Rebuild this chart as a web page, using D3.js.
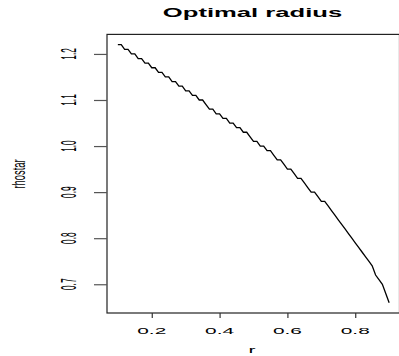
<!DOCTYPE html>
<html>
<head>
<meta charset="utf-8">
<script src="https://cdn.jsdelivr.net/npm/d3@7"></script>
<style>
  body { margin: 0; background: #fff; }
  text { font-family: "Liberation Sans", Arial, sans-serif; }
</style>
</head>
<body>
<div id="chart"></div>
<script>
// r values 0.10 .. 0.90 by 0.01
var rValues = [0.10, 0.11, 0.12, 0.13, 0.14, 0.15, 0.16, 0.17, 0.18, 0.19,
  0.20, 0.21, 0.22, 0.23, 0.24, 0.25, 0.26, 0.27, 0.28, 0.29,
  0.30, 0.31, 0.32, 0.33, 0.34, 0.35, 0.36, 0.37, 0.38, 0.39,
  0.40, 0.41, 0.42, 0.43, 0.44, 0.45, 0.46, 0.47, 0.48, 0.49,
  0.50, 0.51, 0.52, 0.53, 0.54, 0.55, 0.56, 0.57, 0.58, 0.59,
  0.60, 0.61, 0.62, 0.63, 0.64, 0.65, 0.66, 0.67, 0.68, 0.69,
  0.70, 0.71, 0.72, 0.73, 0.74, 0.75, 0.76, 0.77, 0.78, 0.79,
  0.80, 0.81, 0.82, 0.83, 0.84, 0.85, 0.86, 0.87, 0.88, 0.89, 0.90];
var rhostar = [1.22, 1.22, 1.21, 1.21, 1.20, 1.20, 1.19, 1.19, 1.18, 1.18,
  1.17, 1.17, 1.16, 1.16, 1.15, 1.15, 1.14, 1.14, 1.13, 1.13,
  1.12, 1.12, 1.11, 1.11, 1.10, 1.10, 1.09, 1.08, 1.08, 1.07,
  1.07, 1.06, 1.06, 1.05, 1.05, 1.04, 1.04, 1.03, 1.03, 1.02,
  1.01, 1.01, 1.00, 1.00, 0.99, 0.99, 0.98, 0.97, 0.97, 0.96,
  0.95, 0.95, 0.94, 0.93, 0.93, 0.92, 0.91, 0.90, 0.90, 0.89,
  0.88, 0.88, 0.87, 0.86, 0.85, 0.84, 0.83, 0.82, 0.81, 0.80,
  0.79, 0.78, 0.77, 0.76, 0.75, 0.74, 0.72, 0.71, 0.70, 0.68, 0.66];
var xTicks = [0.2, 0.4, 0.6, 0.8];
var yTicks = [0.7, 0.8, 0.9, 1.0, 1.1, 1.2];

var width = 399, height = 356;
var plotLeft = 107, plotRight = 400, plotTop = 34.4, plotBottom = 313;

var svg = d3.select("#chart").append("svg")
  .attr("width", width)
  .attr("height", height);

// R style 4% padding on the data range
var xExt = d3.extent(rValues), yExt = d3.extent(rhostar);
var xPad = (xExt[1] - xExt[0]) * 0.04, yPad = (yExt[1] - yExt[0]) * 0.04;

var x = d3.scaleLinear().domain([xExt[0] - xPad, xExt[1] + xPad]).range([plotLeft, plotRight]);
var y = d3.scaleLinear().domain([yExt[0] - yPad, yExt[1] + yPad]).range([plotBottom, plotTop]);

// plot box
svg.append("rect")
  .attr("x", plotLeft).attr("y", plotTop)
  .attr("width", 399.5 - plotLeft).attr("height", plotBottom - plotTop)
  .attr("fill", "none").attr("stroke", "#222").attr("stroke-width", 1.2);

// x axis
var xAxis = svg.append("g")
  .attr("transform", "translate(0," + plotBottom + ")")
  .call(d3.axisBottom(x).tickValues(xTicks).tickSize(5).tickFormat(""));
xAxis.select(".domain").remove();
xAxis.selectAll("line").attr("stroke", "#333").attr("stroke-width", 1.2);

svg.selectAll(".xlab")
  .data(xTicks)
  .enter().append("text")
  .attr("class", "xlab")
  .attr("transform", function (d) { return "translate(" + x(d) + ",333.7) scale(1.74,0.82)"; })
  .attr("text-anchor", "middle")
  .attr("font-size", 12)
  .attr("fill", "#000")
  .text(function (d) { return d.toFixed(1); });

// y axis
var yAxis = svg.append("g")
  .attr("transform", "translate(" + plotLeft + ",0)")
  .call(d3.axisLeft(y).tickValues(yTicks).tickSize(13).tickFormat(""));
yAxis.select(".domain").remove();
yAxis.selectAll("line").attr("stroke", "#555").attr("stroke-width", 1.2);

svg.selectAll(".ylab")
  .data(yTicks)
  .enter().append("text")
  .attr("class", "ylab")
  .attr("transform", function (d) { return "translate(76," + y(d) + ") scale(1.86,0.69) rotate(-90)"; })
  .attr("text-anchor", "middle")
  .attr("font-size", 12)
  .attr("fill", "#000")
  .text(function (d) { return d.toFixed(1); });

// the line
var line = d3.line()
  .x(function (d, i) { return x(rValues[i]); })
  .y(function (d) { return y(d); });

svg.append("path")
  .datum(rhostar)
  .attr("d", line)
  .attr("fill", "none")
  .attr("stroke", "#000")
  .attr("stroke-width", 1.3);

// titles
svg.append("text")
  .attr("transform", "translate(" + ((plotLeft + 398) / 2) + ",16.7) scale(1.78,0.9)")
  .attr("text-anchor", "middle")
  .attr("font-size", 14.4)
  .attr("font-weight", "bold")
  .text("Optimal radius");

svg.append("text")
  .attr("transform", "translate(252,353) scale(1.75,0.8)")
  .attr("text-anchor", "middle")
  .attr("font-size", 12)
  .text("r");

svg.append("text")
  .attr("transform", "translate(25,174) scale(1.5,0.78) rotate(-90)")
  .attr("text-anchor", "middle")
  .attr("font-size", 12)
  .text("rhostar");
</script>
</body>
</html>
